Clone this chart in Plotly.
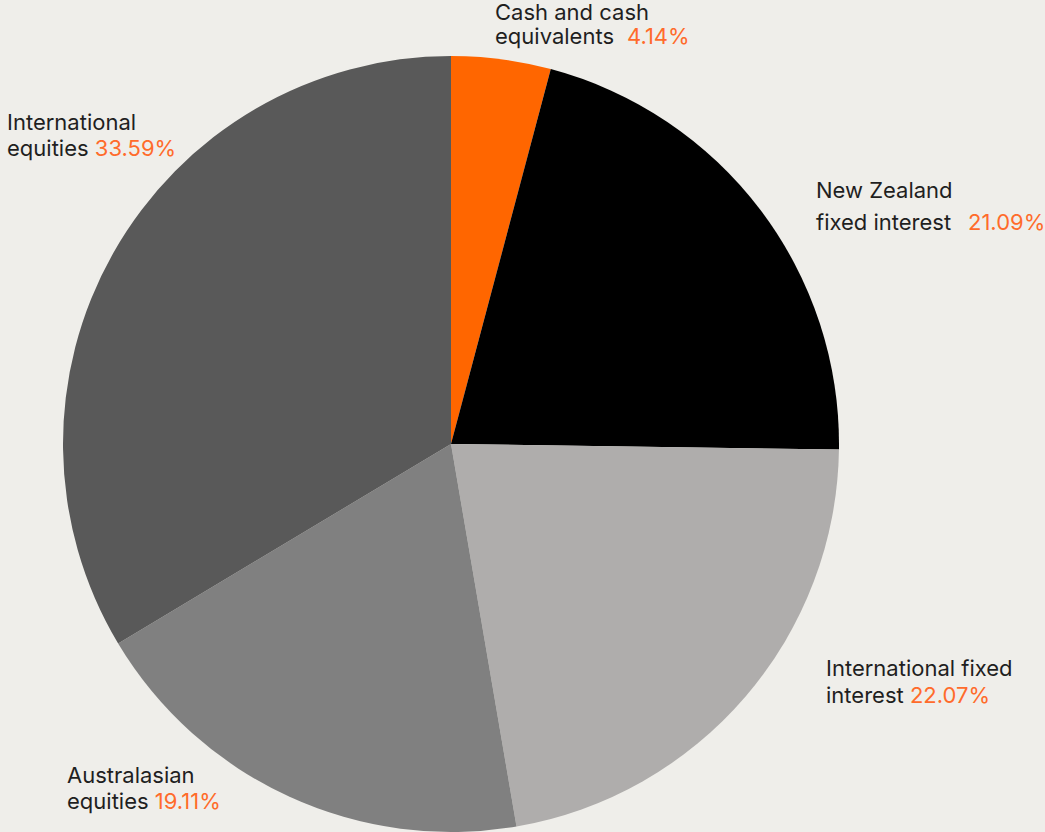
import plotly.graph_objects as go

W, H = 1045, 832

categories = ["Cash and cash equivalents", "New Zealand fixed interest",
              "International fixed interest", "Australasian equities",
              "International equities"]
values = [4.14, 21.09, 22.07, 19.11, 33.59]
colors = ["#FF6600", "#000000", "#AFADAC", "#808080", "#595959"]

# label lines: (text lines, percent label, left x px, baselines px, percent x px)
labels = [
    (["Cash and cash", "equivalents"], "4.14%", 494, [20, 44], 626),
    (["New Zealand", "fixed interest"], "21.09%", 815, [197, 230], 967),
    (["International fixed", "interest"], "22.07%", 825, [675, 702], None),
    (["Australasian", "equities"], "19.11%", 66, [782, 808], None),
    (["International", "equities"], "33.59%", 6, [129, 155], None),
]

TEXT = "#1f1f1f"
ORANGE = "#FF6B2B"
FONT = "Inter"
FS = 22
BG = "#EFEEEA"

fig = go.Figure(go.Pie(
    labels=categories, values=values, sort=False, direction="clockwise",
    rotation=0, textinfo="none", hoverinfo="label+percent",
    marker=dict(colors=colors, line=dict(width=0)),
    domain=dict(x=[63 / W, 839 / W], y=[0, (H - 56) / H]),
    showlegend=False,
))

ann = []
for lines, pct, x, bases, px in labels:
    for i, (ln, b) in enumerate(zip(lines, bases)):
        last = i == len(lines) - 1
        if last and px is None:
            txt = f"{ln} <span style='color:{ORANGE}'>{pct}</span>"
        else:
            txt = ln
        ann.append(dict(text=txt, x=x / W, y=1 - (b - 7.5) / H, xref="paper", yref="paper",
                        xanchor="left", yanchor="middle", showarrow=False,
                        font=dict(family=FONT, size=FS, color=TEXT), borderpad=0))
        if last and px is not None:
            ann.append(dict(text=pct, x=px / W, y=1 - (b - 7.5) / H, xref="paper", yref="paper",
                            xanchor="left", yanchor="middle", showarrow=False,
                            font=dict(family=FONT, size=FS, color=ORANGE), borderpad=0))

fig.update_layout(
    width=W, height=H, margin=dict(l=0, r=0, t=0, b=0),
    paper_bgcolor=BG, plot_bgcolor=BG,
    annotations=ann,
)

fig.write_html(
    "out.html",
    config={"displayModeBar": False},
    post_script=f"document.body.style.margin='0';document.body.style.background='{BG}';"
                "document.body.style.overflow='hidden';",
)
